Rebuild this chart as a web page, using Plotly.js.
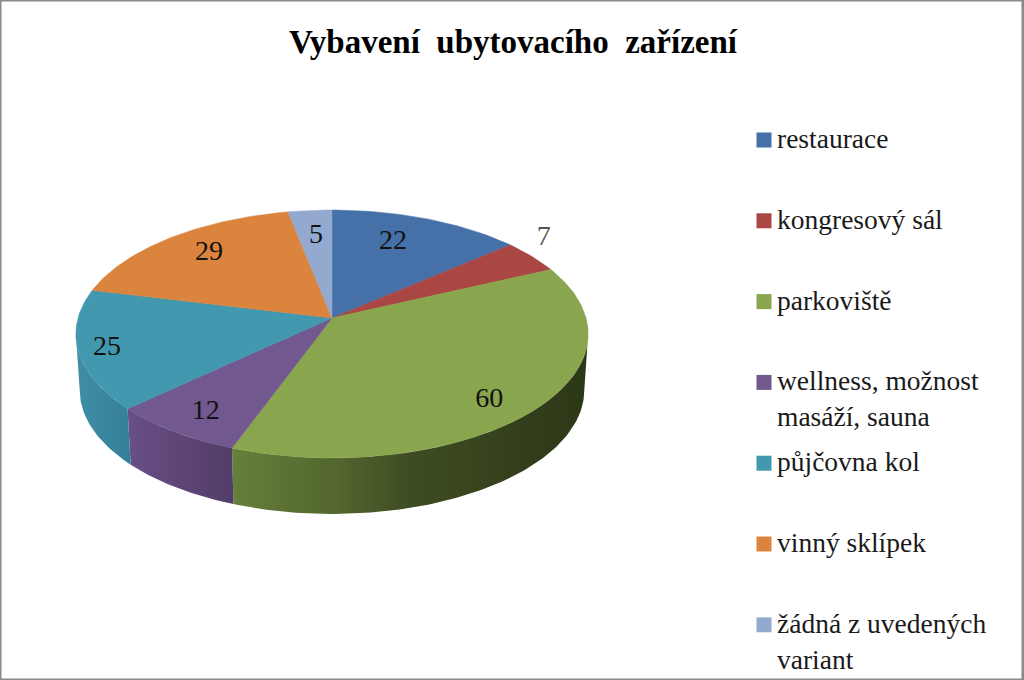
<!DOCTYPE html>
<html>
<head>
<meta charset="utf-8">
<script src="https://cdn.plot.ly/plotly-3.0.1.min.js"></script>
<style>html,body{margin:0;padding:0;background:#fff}#chart{width:1024px;height:680px}</style>
</head>
<body>
<div id="chart"></div>
<script>
const titleText = "Vybavení\u00a0\u00a0ubytovacího\u00a0\u00a0zařízení";
const categories = ["restaurace","kongresový sál","parkoviště","wellness, možnost<br>masáží, sauna","půjčovna kol","vinný sklípek","žádná z uvedených<br>variant"];
const values = [22,7,60,12,25,29,5];
const colors = ["#4571A8","#AA4643","#89A54E","#71588F","#4198AF","#DB843D","#93A9CF"];
const labelColors = ["#111","#555","#111","#111","#111","#111","#111"];
const labelRadius = [0.726,1.16,0.841,0.834,0.891,0.773,0.74];
const labelTurn = [-3.7,-5.6,4.65,-0.95,-0.9,1.6,0.3];
const wallScales = {
  2:[[0,"#667F3A"],[0.3,"#52662E"],[0.5,"#3E4C22"],[1,"#2C3717"]],
  3:[[0,"#684F85"],[1,"#523C68"]],
  4:[[0,"#3F8EA6"],[1,"#357F98"]]
};

const view = {cx:332, cy:318, bx:254, by:121.9, k:0.129, depth:56, shrink:0.985};
const rad = d => d*Math.PI/180;
function project(deg, r){
  const s=Math.sin(rad(deg))*r, c=Math.cos(rad(deg))*r, w=1+view.k*c;
  return [view.cx+view.bx*s/w, view.cy-view.by*c/w];
}
function lower(deg){
  const p=project(deg,1);
  return [view.cx+(p[0]-view.cx)*view.shrink, p[1]+view.depth];
}
const total = values.reduce((a,b)=>a+b,0);
const bounds=[0];
values.forEach(v=>bounds.push(bounds[bounds.length-1]+v/total*360));
const sweep=(a,b)=>{const o=[];const n=Math.max(2,Math.ceil(b-a));for(let i=0;i<=n;i++)o.push(a+(b-a)*i/n);return o;};

const traces=[];
// side wall: only the part of the rim facing the viewer
const visFrom=97.4, visTo=262.6;
values.forEach((v,i)=>{
  const a=Math.max(bounds[i],visFrom), b=Math.min(bounds[i+1],visTo);
  if(b<=a) return;
  const arc=sweep(a,b);
  const pts=arc.map(d=>project(d,1)).concat(arc.slice().reverse().map(lower));
  const xs=pts.map(p=>p[0]);
  traces.push({type:"scatter",mode:"lines",x:xs.concat(xs[0]),y:pts.map(p=>p[1]).concat(pts[0][1]),
    fill:"toself",line:{width:0},showlegend:false,hoverinfo:"skip",
    fillgradient:{type:"horizontal",colorscale:wallScales[i],start:Math.min(...xs),stop:Math.max(...xs)}});
});
// top face
values.forEach((v,i)=>{
  const pts=[project(0,0)].concat(sweep(bounds[i],bounds[i+1]).map(d=>project(d,1)));
  pts.push(project(0,0));
  traces.push({type:"scatter",mode:"lines",name:categories[i],x:pts.map(p=>p[0]),y:pts.map(p=>p[1]),
    fill:"toself",fillcolor:colors[i],line:{color:colors[i],width:0.5},showlegend:false,
    text:String(v),hoverinfo:"name+text"});
});
// value labels
const labelPts=values.map((v,i)=>project((bounds[i]+bounds[i+1])/2+labelTurn[i],labelRadius[i]));
traces.push({type:"scatter",mode:"text",x:labelPts.map(p=>p[0]),y:labelPts.map(p=>p[1]),
  text:values.map(String),textposition:"middle center",
  textfont:{family:"Liberation Serif",size:28,color:labelColors},showlegend:false,hoverinfo:"skip"});
// legend
const legendTop=140, legendStep=80.8, legendSwatchX=764, legendTextX=776;
traces.push({type:"scatter",mode:"markers",x:categories.map(()=>legendSwatchX),
  y:categories.map((c,i)=>legendTop+legendStep*i),
  marker:{symbol:"square",size:15,color:colors},showlegend:false,hoverinfo:"skip"});
const annotations=categories.map((c,i)=>({xref:"x",yref:"y",x:legendTextX,y:legendTop+legendStep*i-18,
  xanchor:"left",yanchor:"top",align:"left",text:c,showarrow:false,borderpad:0,
  font:{family:"Liberation Serif",size:27.5,color:"#1a1a1a"}}));

const layout={
  width:1024,height:680,margin:{l:0,r:0,t:0,b:0},paper_bgcolor:"#fff",plot_bgcolor:"#fff",showlegend:false,
  title:{text:titleText,x:513/1024,xanchor:"center",xref:"paper",y:1-41/680,yanchor:"middle",yref:"paper",
    font:{family:"Liberation Serif",size:33,color:"#000",weight:700}},
  xaxis:{range:[0,1024],visible:false,fixedrange:true},
  yaxis:{range:[680,0],visible:false,fixedrange:true},
  annotations,
  shapes:[{type:"rect",xref:"paper",yref:"paper",x0:0,x1:1023/1024,y0:0,y1:1,line:{color:"#8a8a8a",width:3},fillcolor:"rgba(0,0,0,0)"}]
};
Plotly.newPlot("chart",traces,layout,{displayModeBar:false,staticPlot:true});
</script>
</body>
</html>
